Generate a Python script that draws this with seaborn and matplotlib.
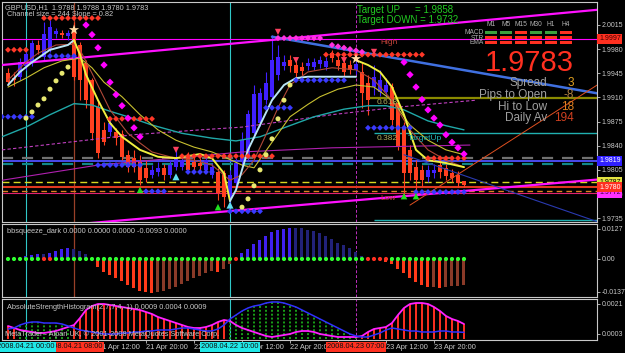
import numpy as np
import matplotlib
matplotlib.use("Agg")
import matplotlib.pyplot as plt
import matplotlib.transforms as mtrans
from matplotlib.patches import Rectangle
import seaborn as sns

# ---------------- data ----------------
bar_idx = list(range(-3, 74))   # hours since 2008.04.21 00:00 (H1 bars)

ha_open = [1.9945, 1.9938, 1.9940, 1.9956, 1.9960, 1.9986, 1.9969, 1.9979, 2.0002, 2.0003,
           1.9999, 2.0008, 1.9986, 1.9960, 1.9935, 1.9896, 1.9863, 1.9860, 1.9860, 1.9856,
           1.9827, 1.9822, 1.9816, 1.9808, 1.9798, 1.9802, 1.9808, 1.9798, 1.9809, 1.9809,
           1.9824, 1.9816, 1.9815, 1.9805, 1.9798, 1.9802, 1.9800, 1.9766, 1.9786, 1.9819,
           1.9824, 1.9858, 1.9873, 1.9906, 1.9911, 1.9943, 1.9956, 1.9964, 1.9957, 1.9954,
           1.9956, 1.9954, 1.9958, 1.9954, 1.9974, 1.9964, 1.9960, 1.9956, 1.9950, 1.9947,
           1.9931, 1.9925, 1.9918, 1.9918, 1.9925, 1.9902, 1.9867, 1.9834, 1.9809, 1.9805,
           1.9795, 1.9800, 1.9812, 1.9808, 1.9800, 1.9798, 1.9788]
ha_high = [1.9953, 1.9947, 1.9967, 1.9979, 1.9993, 1.9993, 2.0019, 2.0022, 2.0011, 2.0008,
           2.0008, 2.0019, 1.9990, 1.9964, 1.9938, 1.9906, 1.9874, 1.9880, 1.9866, 1.9863,
           1.9834, 1.9834, 1.9827, 1.9819, 1.9812, 1.9816, 1.9814, 1.9819, 1.9834, 1.9828,
           1.9831, 1.9825, 1.9822, 1.9827, 1.9815, 1.9808, 1.9805, 1.9805, 1.9822, 1.9860,
           1.9892, 1.9928, 1.9924, 1.9947, 2.0001, 1.9986, 1.9972, 1.9972, 1.9967, 1.9961,
           1.9967, 1.9967, 1.9970, 1.9969, 1.9979, 1.9970, 1.9967, 1.9964, 1.9967, 1.9961,
           1.9943, 1.9957, 1.9950, 1.9938, 1.9931, 1.9906, 1.9874, 1.9841, 1.9819, 1.9812,
           1.9812, 1.9814, 1.9819, 1.9814, 1.9807, 1.9804, 1.9788]
ha_low = [1.9928, 1.9927, 1.9935, 1.9950, 1.9956, 1.9973, 1.9964, 1.9976, 1.9996, 1.9996,
          1.9993, 1.9935, 1.9906, 1.9895, 1.9848, 1.9822, 1.9841, 1.9854, 1.9841, 1.9819,
          1.9802, 1.9802, 1.9783, 1.9787, 1.9793, 1.9796, 1.9790, 1.9793, 1.9805, 1.9805,
          1.9800, 1.9802, 1.9805, 1.9802, 1.9793, 1.9761, 1.9751, 1.9754, 1.9776, 1.9812,
          1.9819, 1.9851, 1.9869, 1.9901, 1.9906, 1.9935, 1.9950, 1.9947, 1.9938, 1.9943,
          1.9950, 1.9950, 1.9953, 1.9950, 1.9961, 1.9950, 1.9941, 1.9944, 1.9944, 1.9895,
          1.9885, 1.9914, 1.9912, 1.9911, 1.9870, 1.9834, 1.9767, 1.9790, 1.9769, 1.9782,
          1.9787, 1.9793, 1.9793, 1.9790, 1.9787, 1.9780, 1.9780]
ha_close = [1.9932, 1.9935, 1.9961, 1.9972, 1.9989, 1.9979, 2.0001, 2.0012, 2.0006, 2.0001,
            2.0003, 1.9940, 1.9935, 1.9906, 1.9858, 1.9829, 1.9845, 1.9872, 1.9851, 1.9824,
            1.9809, 1.9809, 1.9790, 1.9793, 1.9805, 1.9808, 1.9798, 1.9812, 1.9824, 1.9819,
            1.9805, 1.9809, 1.9811, 1.9819, 1.9809, 1.9772, 1.9766, 1.9798, 1.9815, 1.9848,
            1.9885, 1.9914, 1.9916, 1.9931, 1.9964, 1.9969, 1.9961, 1.9956, 1.9945, 1.9948,
            1.9960, 1.9961, 1.9964, 1.9963, 1.9967, 1.9956, 1.9947, 1.9950, 1.9958, 1.9916,
            1.9906, 1.9940, 1.9935, 1.9928, 1.9877, 1.9838, 1.9800, 1.9800, 1.9790, 1.9790,
            1.9805, 1.9805, 1.9802, 1.9796, 1.9793, 1.9786, 1.9783]

# fast MA (light blue while rising, yellow while falling)
hma_up1_h = [-3, -1, 1, 4, 7, 8]
hma_up1_p = [1.9928, 1.9947, 1.9961, 1.9979, 1.9986, 1.9993]
hma_dn1_h = [8, 9, 10, 12, 14, 16, 19, 22, 25, 29, 31, 33, 34]
hma_dn1_p = [1.9993, 1.9972, 1.9943, 1.9906, 1.9873, 1.9853, 1.9834, 1.9824, 1.9822, 1.9828, 1.9822, 1.9800, 1.9760]
hma_up2_h = [34, 35, 37, 39, 41, 43, 45, 47, 55]
hma_up2_p = [1.9760, 1.9776, 1.9834, 1.9870, 1.9906, 1.9928, 1.9938, 1.9940, 1.9940]
hma_dn2_h = [55, 57, 59, 61, 63, 65, 67, 70, 73]
hma_dn2_p = [1.9964, 1.9957, 1.9947, 1.9925, 1.9885, 1.9834, 1.9819, 1.9815, 1.9809]

brown_h = [-3, 0, 2, 5, 8, 9, 11, 14, 17, 19, 21, 24, 28, 31, 34, 36, 38, 40, 42, 44, 47, 51, 55, 58, 61, 64, 67, 70, 73]
brown_p = [1.9935, 1.9961, 1.9974, 1.9986, 1.9987, 1.9979, 1.9945, 1.9892, 1.9858, 1.9844, 1.9831, 1.9824, 1.9819, 1.9812,
           1.9790, 1.9798, 1.9819, 1.9856, 1.9895, 1.9928, 1.9947, 1.9953, 1.9950, 1.9935, 1.9906, 1.9863, 1.9834, 1.9819, 1.9809]
olive_h = [-3, 0, 3, 6, 9, 11, 13, 16, 19, 22, 25, 28, 31, 34, 36, 38, 41, 44, 47, 49, 52, 55, 58, 61, 64, 67, 70, 73]
olive_p = [1.9925, 1.9938, 1.9953, 1.9963, 1.9967, 1.9953, 1.9932, 1.9911, 1.9885, 1.9863, 1.9848, 1.9838, 1.9831, 1.9820,
           1.9812, 1.9808, 1.9845, 1.9882, 1.9900, 1.9911, 1.9922, 1.9928, 1.9925, 1.9906, 1.9870, 1.9848, 1.9834, 1.9827]
teal_h = [-4, 0, 4, 8, 11, 14, 17, 21, 26, 31, 35, 39, 43, 48, 53, 57, 60, 63, 67, 70, 73]
teal_p = [1.9853, 1.9867, 1.9885, 1.9901, 1.9899, 1.9890, 1.9882, 1.9870, 1.9858, 1.9851, 1.9847, 1.9853, 1.9866, 1.9882,
          1.9893, 1.9898, 1.9898, 1.9892, 1.9876, 1.9869, 1.9863]
slow_h = [-4, 7, 18, 29, 36, 51, 62, 75]
slow_p = [1.9834, 1.9845, 1.9856, 1.9863, 1.9867, 1.9885, 1.9896, 1.9906]
purple_h = [-4, 12, 36, 51, 74]
purple_p = [1.9790, 1.9812, 1.9831, 1.9837, 1.9841]

chan_up_h, chan_up_p = [-4, 95.2], [1.9957, 2.0037]
chan_lo_h, chan_lo_p = [-4, 95.2], [1.9717, 1.9791]
trend_blue_h, trend_blue_p = [41, 95.2], [1.9998, 1.9916]
trend_navy_h, trend_navy_p = [63, 95.2], [1.9827, 1.9730]
trend_org_h, trend_org_p = [64, 95.2], [1.9754, 1.9928]

# horizontal levels
lvl_magenta = 1.9995
lvl_618 = 1.9909
target_up = 1.9858
target_down = 1.9732
lvl_gray, lvl_blue, lvl_teal = 1.9822, 1.9818, 1.9814
lvl_yellow, lvl_red, lvl_orange, lvl_pink = 1.9787, 1.9780, 1.9775, 1.9772

# dotted level rows (start bar, end bar, price)
red_rows = [(3, 12, 2.0025), (-3, 0, 1.9979), (14, 21, 1.9879), (26, 41, 1.9825), (50, 66, 1.9972), (67, 73, 1.9822)]
blue_rows = [(-4, 1, 1.9882), (4, 8, 1.9970), (12, 19, 1.9812), (20, 23, 1.9774), (27, 31, 1.9802), (34, 39, 1.9745),
             (40, 44, 1.9895), (45, 53, 1.9935), (57, 64, 1.9866), (65, 73, 1.9773)]
pink_h = [42, 43, 44, 45, 46, 47, 48, 49, 51, 52, 53, 54, 55, 56]
pink_p = [1.9996, 1.9996, 1.9996, 1.9996, 1.9996, 1.9996, 1.9996, 1.9996, 1.9986, 1.9984, 1.9982, 1.9980, 1.9978, 1.9976]
sar_dn_h = [10, 11, 12, 13, 14, 15, 16, 17, 18, 19, 63, 64, 65, 66, 67, 68, 69, 70, 71, 72, 73]
sar_dn_p = [2.0015, 2.0001, 1.9982, 1.9957, 1.9932, 1.9914, 1.9898, 1.9880, 1.9866, 1.9853,
            1.9961, 1.9943, 1.9925, 1.9907, 1.9892, 1.9880, 1.9870, 1.9856, 1.9845, 1.9837, 1.9828]
sar_up_h = [0, 1, 2, 3, 4, 5, 6, 7, 36, 37, 38, 39, 40, 41, 42, 43, 44]
sar_up_p = [1.9880, 1.9889, 1.9899, 1.9908, 1.9922, 1.9934, 1.9945, 1.9954,
            1.9751, 1.9763, 1.9782, 1.9805, 1.9827, 1.9850, 1.9879, 1.9906, 1.9928]
green_arrow_h, green_arrow_p = [19, 32, 63, 65], [1.9776, 1.9751, 1.9767, 1.9767]
cyan_arrow_h, cyan_arrow_p = [25, 34], [1.9795, 1.9754]
red_arrow_h, red_arrow_p = [25, 42, 45, 53, 58], [1.9834, 2.0005, 1.9964, 1.9964, 1.9976]
star_h, star_p = [8, 55], [2.0008, 1.9966]

# bbsqueeze histogram
bbsq = [0.0004, 0.0, 0.0, 0.0013, 0.0017, 0.0021, 0.0021, 0.0025, 0.0033, 0.0042,
        0.0046, 0.0042, 0.0033, 0.0021, 0.0004, -0.0033, -0.0054, -0.0067, -0.0079, -0.0092,
        -0.0109, -0.0121, -0.0134, -0.0138, -0.0142, -0.0138, -0.0134, -0.0125, -0.0117, -0.0104,
        -0.0092, -0.0079, -0.0071, -0.0059, -0.0050, -0.0054, -0.0042, -0.0021, 0.0, 0.0025,
        0.0042, 0.0063, 0.0079, 0.0096, 0.0113, 0.0121, 0.0125, 0.0130, 0.0130, 0.0130,
        0.0121, 0.0117, 0.0109, 0.0096, 0.0084, 0.0067, 0.0059, 0.0046, 0.0029, 0.0013,
        0.0, 0.0, 0.0, -0.0013, -0.0021, -0.0042, -0.0059, -0.0079, -0.0096, -0.0109,
        -0.0117, -0.0117, -0.0121, -0.0117, -0.0113, -0.0113, -0.0109]
squeeze_on = [3, 4, 35, 57, 58, 59, 60]

# Absolute strength histogram (x 1e-4)
ash_bear = [7.8, 6.6, 5.4, 4.8, 4.2, 3.6, 3.6, 4.2, 4.8, 6.0, 7.2, 8.4, 12.6, 17.4, 19.8, 21.0, 21.0, 20.4, 19.8, 19.2,
            18.6, 18.0, 17.4, 16.2, 15.0, 13.2, 12.0, 10.8, 9.6, 8.4, 7.2, 6.6, 6.6, 7.2, 8.4, 10.2, 11.4, 10.8, 8.4, 6.6,
            5.4, 4.2, 3.0, 1.8, 1.2, 1.8, 2.4, 3.0, 4.2, 4.8, 4.8, 4.2, 3.0, 2.4, 1.8, 1.2, 1.2, 1.2, 1.2, 1.8,
            4.2, 6.0, 6.6, 7.2, 9.6, 14.4, 18.6, 21.0, 21.6, 21.6, 21.0, 19.2, 16.8, 13.8, 12.0, 10.8, 9.0]
ash_bull = [6.0, 6.6, 8.4, 9.6, 10.2, 10.2, 9.6, 9.6, 9.6, 9.0, 7.8, 6.6, 5.4, 4.8, 4.2, 3.6, 3.0, 3.0, 3.0, 3.6,
            3.6, 4.2, 4.2, 4.8, 4.8, 5.4, 5.4, 5.4, 6.0, 6.6, 6.6, 6.0, 5.4, 4.8, 4.8, 6.0, 8.4, 12.0, 14.4, 16.8,
            18.6, 19.8, 20.4, 21.6, 22.2, 22.2, 21.6, 20.4, 19.2, 17.4, 15.6, 13.8, 12.0, 10.2, 8.4, 6.6, 4.8, 3.0, 1.8, 1.2,
            1.2, 2.4, 3.6, 5.4, 6.6, 6.0, 5.4, 4.8, 4.8, 4.2, 4.2, 4.2, 4.8, 4.8, 4.2, 4.2, 4.0]

price_ticks = [2.0015, 1.9980, 1.9945, 1.9910, 1.9875, 1.9840, 1.9805, 1.9770, 1.9735]
time_ticks = [4, 12, 20, 28, 36, 44, 52, 60, 68]
time_labels = ["21 Apr 04:00", "21 Apr 12:00", "21 Apr 20:00", "22 Apr 04:00", "22 Apr 12:00",
               "22 Apr 20:00", "23 Apr 04:00", "23 Apr 12:00", "23 Apr 20:00"]
tf_names = ["M1", "M5", "M15", "M30", "H1", "H4"]
macd_state = [1, 1, 0, 1, 1, 0]
str_state = [0, 0, 0, 0, 0, 0]
ema_state = [0, 0, 0, 0, 0, 0]

# ---------------- style ----------------
W, H = 625, 353
sns.set_theme(style="dark", rc={"axes.facecolor": "black", "figure.facecolor": "black"})
plt.rcParams["font.family"] = ["Liberation Sans", "DejaVu Sans"]
FG = "#C8C8C8"
BLUE, RED = "#4020FF", "#FF4020"
FS = 5.3
FSY = 5.0

fig = plt.figure(figsize=(6.25, 3.53), dpi=100)
fig.patch.set_facecolor("black")


def frect(x0, y0, x1, y1):
    return [x0 / W, 1 - y1 / H, (x1 - x0) / W, (y1 - y0) / H]


def P(x, y):
    return x / W, 1 - y / H


ax = fig.add_axes(frect(2, 2, 597, 222))
ax2 = fig.add_axes(frect(2, 224, 597, 297))
ax3 = fig.add_axes(frect(2, 299, 597, 340))
XMIN, XMAX = -4, 95.17
for a in (ax, ax2, ax3):
    a.set_facecolor("black")
    a.set_xlim(XMIN, XMAX)
    for s in a.spines.values():
        s.set_color(FG)
        s.set_linewidth(0.8)
    a.yaxis.tick_right()
    a.tick_params(axis="y", which="both", right=True, left=False, labelright=True, labelleft=False,
                  length=2.5, width=0.6, colors=FG, labelsize=FSY, pad=1)
    a.tick_params(axis="x", bottom=False, labelbottom=False)
    a.grid(False)
    # cursor / period separators
    a.axvline(0, color="#30C8C8", lw=0.8, zorder=1)
    a.axvline(34, color="#30C8C8", lw=0.8, zorder=1)
    a.axvline(55, color="#C030C0", lw=0.7, ls=(0, (3, 2)), zorder=1)
ax.axvline(8, color="#9A4028", lw=0.9, zorder=1)
ax2.axvline(8, color="#9A4028", lw=0.9, zorder=1)

# ---------------- main panel ----------------
ax.set_ylim(1.97295, 2.00483)
ax.set_yticks(price_ticks)
ax.set_yticklabels([f"{t:.4f}" for t in price_ticks])

o = np.array(ha_open); c = np.array(ha_close)
cols = np.where(c >= o, BLUE, RED)
ax.vlines(bar_idx, ha_low, ha_high, colors=cols, lw=0.8, zorder=2)
ax.bar(bar_idx, np.abs(c - o) + 0.00003, bottom=np.minimum(o, c), width=0.66, color=cols, lw=0, zorder=2)

# horizontal levels
ax.axhline(lvl_magenta, color="#FF00FF", lw=0.8, zorder=1.5)
ax.axhline(lvl_gray, color="#707070", lw=1.6, ls=(0, (5, 4)), zorder=1.5)
ax.axhline(lvl_blue, color="#5050FF", lw=1.3, zorder=1.6)
ax.axhline(lvl_teal, color="#108888", lw=1.6, ls=(0, (5, 4)), zorder=1.5)
ax.axhline(lvl_yellow, color="#D8D820", lw=1.0, ls=(0, (5, 3)), zorder=1.5)
ax.axhline(lvl_red, color="#E03820", lw=1.5, zorder=1.5)
ax.axhline(lvl_orange, color="#E08020", lw=1.0, ls=(0, (4, 3)), zorder=1.5)
ax.axhline(lvl_pink, color="#E02070", lw=0.8, zorder=1.5)
ax.hlines(lvl_618, 57.3, XMAX, color="#8A8A00", lw=1.6, zorder=1.5)
ax.hlines(target_up, 58, XMAX, color="#20B0B0", lw=1.0, zorder=1.5)
ax.hlines(target_down, 58, XMAX, color="#20B0B0", lw=1.0, zorder=1.5)

# channel and trend lines
for hh, pp, colr, lw in [(chan_up_h, chan_up_p, "#FF10FF", 1.6), (chan_lo_h, chan_lo_p, "#FF10FF", 1.6),
                         (trend_blue_h, trend_blue_p, "#4070E0", 1.8), (trend_navy_h, trend_navy_p, "#2A3AB0", 0.8),
                         (trend_org_h, trend_org_p, "#E05020", 0.7)]:
    sns.lineplot(x=hh, y=pp, ax=ax, color=colr, lw=lw, zorder=3, legend=False)

# moving averages
sns.lineplot(x=purple_h, y=purple_p, ax=ax, color="#B020B0", lw=0.8, zorder=3)
ax.plot(slow_h, slow_p, color="#C040C0", lw=0.8, ls=(0, (3, 2)), zorder=3)
sns.lineplot(x=teal_h, y=teal_p, ax=ax, color="#20A8A8", lw=1.0, zorder=3)
sns.lineplot(x=olive_h, y=olive_p, ax=ax, color="#C8C030", lw=0.8, zorder=3)
sns.lineplot(x=brown_h, y=brown_p, ax=ax, color="#B04838", lw=0.8, zorder=3)
for hh, pp, colr in [(hma_up1_h, hma_up1_p, "#B8E4F4"), (hma_dn1_h, hma_dn1_p, "#F0F040"),
                     (hma_up2_h, hma_up2_p, "#B8E4F4"), (hma_dn2_h, hma_dn2_p, "#F0F040")]:
    sns.lineplot(x=hh, y=pp, ax=ax, color=colr, lw=1.4, zorder=3.2)

# dotted rows
for a0, a1, p in red_rows:
    hs = list(range(a0, a1 + 1))
    sns.scatterplot(x=hs, y=[p] * len(hs), ax=ax, marker="D", s=9, color="#FF3828", edgecolor="none", zorder=4)
for a0, a1, p in blue_rows:
    hs = list(range(a0, a1 + 1))
    sns.scatterplot(x=hs, y=[p] * len(hs), ax=ax, marker="D", s=9, color="#3A3AFF", edgecolor="none", zorder=4)
sns.scatterplot(x=pink_h, y=pink_p, ax=ax, marker="D", s=10, color="#FF30E0", edgecolor="none", zorder=4)
sns.scatterplot(x=sar_dn_h, y=sar_dn_p, ax=ax, marker="D", s=14, color="#FF00FF", edgecolor="none", zorder=4)
sns.scatterplot(x=sar_up_h, y=sar_up_p, ax=ax, marker="o", s=13, color="#E8E870", edgecolor="none", zorder=4)
sns.scatterplot(x=green_arrow_h, y=green_arrow_p, ax=ax, marker="^", s=22, color="#20E020", edgecolor="none", zorder=4)
sns.scatterplot(x=cyan_arrow_h, y=cyan_arrow_p, ax=ax, marker="^", s=26, color="#60E0F0", edgecolor="none", zorder=4)
sns.scatterplot(x=red_arrow_h, y=red_arrow_p, ax=ax, marker="v", s=20, color="#FF4060", edgecolor="none", zorder=4)
sns.scatterplot(x=star_h, y=star_p, ax=ax, marker="*", s=60, color="#FFD8A0", edgecolor="none", zorder=4)

# right-axis price boxes
bt = mtrans.blended_transform_factory(ax.transAxes, ax.transData)
for p, txt, fc, tc in [(lvl_magenta, "1.9997", "#FF3020", "#400000"), (lvl_blue, "1.9819", "#3020FF", "#FFFFFF"),
                       (lvl_yellow, "1.9787", "#E0E040", "#000000"), (lvl_pink, "1.9772", "#FF30FF", "#400040"),
                       (lvl_red, "1.9780", "#FF3020", "#FFFFFF")]:
    ax.text(1.0 + 2 / 595, p, txt, transform=bt, ha="left", va="center", fontsize=FSY, color=tc, clip_on=False,
            zorder=10, bbox=dict(boxstyle="square,pad=0.25", fc=fc, ec="none"))

# texts in main panel
fig.text(*P(5, 8), "GBPUSD,H1  1.9788 1.9788 1.9780 1.9783", fontsize=FS, color=FG, va="center")
fig.text(*P(7, 15), "Channel size = 244 Slope = 0.82", fontsize=FS, color=FG, va="center")
fig.text(*P(357, 10), "Target UP", fontsize=7, color="#22CC22", va="center")
fig.text(*P(415, 10), "= 1.9858", fontsize=7, color="#22CC22", va="center")
fig.text(*P(357, 20), "Target DOWN = 1.9732", fontsize=7, color="#22CC22", va="center")
fig.text(*P(529, 63), "1.9783", fontsize=21, color="#FF3020", ha="center", va="center")
for lbl, val, y, vc in [("Spread", "3", 83, "#E0A020"), ("Pips to Open", "-8", 95, "#B08040"),
                        ("Hi to Low", "18", 107, "#E08020"), ("Daily Av", "194", 118, "#D04020")]:
    fig.text(*P(547, y), lbl, fontsize=8.5, color="#A0A0A0", ha="right", va="center")
    fig.text(*P(574, y), val, fontsize=8.5, color=vc, ha="right", va="center")
for i, tf in enumerate(tf_names):
    cx = 491 + 15 * i
    fig.text(*P(cx, 25), tf, fontsize=4.8, color="#B0B0B0", ha="center", va="center")
    for row, (st, y) in enumerate([(macd_state[i], 32), (str_state[i], 37), (ema_state[i], 42)]):
        colr = "#3CA03C" if st else "#FF3020"
        fig.add_artist(Rectangle(((cx - 6) / W, 1 - (y + 2) / H), 12 / W, 3 / H,
                                 transform=fig.transFigure, fc=colr, ec="none"))
for lbl, y in [("MACD", 33), ("STR", 38), ("EMA", 43)]:
    fig.text(*P(484, y), lbl, fontsize=4.8, color="#B0B0B0", ha="right", va="center")
fig.text(*P(380, 43), "High", fontsize=6, color="#C04038", va="center")
fig.text(*P(380, 198), "Low", fontsize=6, color="#C04038", va="center")
fig.text(*P(377, 102), "0.618", fontsize=6, color="#B0B060", va="center")
fig.text(*P(377, 139), "0.382", fontsize=6, color="#B0B060", va="center")
fig.text(*P(408, 139), "TargetUp", fontsize=6, color="#20B8B8", va="center")

# ---------------- bbsqueeze panel ----------------
ax2.set_ylim(-0.0159, 0.01464)
ax2.set_yticks([0.0127, 0.0, -0.0137])
ax2.set_yticklabels(["0.0127", "0.00", "-0.0137"])
vals = np.array(bbsq)
prev = np.concatenate([[0.0], vals[:-1]])
bcol = []
for v, pv in zip(vals, prev):
    if v >= 0:
        bcol.append("#4020F0" if abs(v) > abs(pv) else "#22227A")
    else:
        bcol.append("#FF3A1A" if abs(v) > abs(pv) else "#8A3A28")
ax2.bar(bar_idx, vals, width=0.5, color=bcol, lw=0, zorder=2)
dot_col = ["#FF3020" if h in squeeze_on else "#30FF30" for h in bar_idx]
ax2.scatter(bar_idx, [0.0] * len(bar_idx), s=9, c=dot_col, edgecolors="none", zorder=3)
ax2.text(5 / 595, 0.9, "bbsqueeze_dark 0.0000 0.0000 0.0000 -0.0093 0.0000", transform=ax2.transAxes,
         fontsize=FS, color=FG, va="center")

# ---------------- absolute strength panel ----------------
ax3.set_ylim(-0.00006, 0.0024)
ax3.set_yticks([0.0021, 0.0003])
ax3.set_yticklabels(["0.0021", "0.0003"])
bull = np.array(ash_bull) * 1e-4
bear = np.array(ash_bear) * 1e-4
bi = np.array(bar_idx)
gm = bull > bear
ax3.vlines(bi[gm], 0, bull[gm], colors="#18A018", lw=1.4, linestyles=(0, (1, 1)), zorder=2)
ax3.vlines(bi[~gm], 0, bear[~gm], colors="#FF3020", lw=1.4, zorder=2)
sns.lineplot(x=bar_idx, y=bear, ax=ax3, color="#FF20FF", lw=1.3, zorder=3)
sns.lineplot(x=bar_idx, y=bull, ax=ax3, color="#3030FF", lw=1.1, zorder=3)
ax3.text(5 / 595, 0.8, "AbsoluteStrengthHistogram(2,7,7,4,-1) 0.0009 0.0004 0.0009", transform=ax3.transAxes,
         fontsize=FS, color=FG, va="center")
ax3.text(3 / 595, 0.15, "MetaTrader - Alpari UK, \u00a9 2001-2008 MetaQuotes Software Corp.", transform=ax3.transAxes,
         fontsize=FS, color=FG, va="center", zorder=5)

ax3.set_xticks(time_ticks)
ax3.set_xticklabels(time_labels, ha="left")
ax3.tick_params(axis="x", bottom=True, labelbottom=True, length=2, width=0.6, colors=FG, labelsize=FS, pad=1)
for a in (ax, ax2):
    a.set_xticks([])

bx = mtrans.blended_transform_factory(ax3.transData, ax3.transAxes)
for h, txt, fc, z in [(8, "2008.04.21 08:00", "#FF3020", 11), (55, "2008.04.23 07:00", "#FF3020", 11),
                      (0, "2008.04.21 00:00", "#20E8E8", 12), (34, "2008.04.22 10:00", "#20E8E8", 12)]:
    ax3.text(h, -7 / 41, txt, transform=bx, ha="center", va="center", fontsize=FS, color="#101010",
             clip_on=False, zorder=z, bbox=dict(boxstyle="square,pad=0.2", fc=fc, ec="none"))

fig.savefig("out.png", dpi=100, facecolor="black")
